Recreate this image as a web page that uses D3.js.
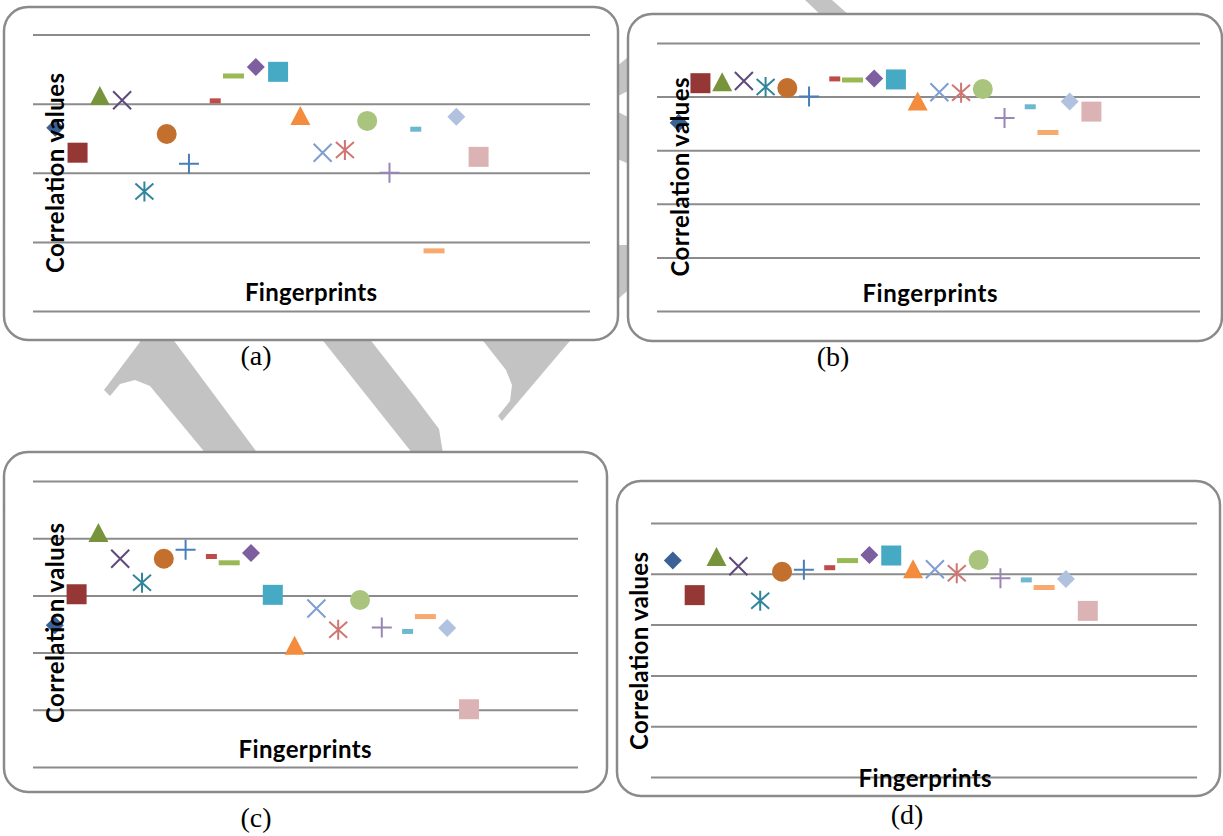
<!DOCTYPE html>
<html>
<head>
<meta charset="utf-8">
<script src="https://cdn.jsdelivr.net/npm/d3@7"></script>
<style>
  body { margin: 0; background: #fff; }
  svg { display: block; }
  .grid line { stroke: #8b8b8b; stroke-width: 2; }
  .grid path { display: none; }
  .title { font-family: Lato, "Open Sans", sans-serif; font-weight: bold; fill: #000; }
  .caption { font-family: "Liberation Serif", "Times New Roman", serif; fill: #000; }
</style>
</head>
<body>
<script>
// fingerprint number (x) of each series, one point per series
var fingerprints = [1, 2, 3, 4, 5, 6, 7, 8, 9, 10, 11, 12, 13, 14, 15, 16, 17, 18, 19, 20];

// correlation values
var valuesA = [0.865, 0.829, 0.911, 0.905, 0.773, 0.856, 0.813, 0.904, 0.940, 0.953,
               0.946, 0.882, 0.829, 0.833, 0.875, 0.800, 0.863, 0.687, 0.881, 0.823];
var valuesB = [0.851, 0.925, 0.927, 0.929, 0.918, 0.916, 0.900, 0.933, 0.931, 0.934,
               0.932, 0.891, 0.908, 0.907, 0.914, 0.860, 0.881, 0.833, 0.891, 0.872];
var valuesC = [0.748, 0.802, 0.909, 0.864, 0.822, 0.864, 0.880, 0.868, 0.857, 0.874,
               0.801, 0.712, 0.777, 0.740, 0.792, 0.744, 0.737, 0.763, 0.743, 0.601];
var valuesD = [0.926, 0.858, 0.933, 0.915, 0.847, 0.904, 0.908, 0.912, 0.926, 0.937,
               0.936, 0.909, 0.909, 0.901, 0.927, 0.891, 0.888, 0.873, 0.890, 0.827];

// gridline values (no tick labels are shown)
var yTicksA = [0.6, 0.7, 0.8, 0.9, 1.0];
var yTicks = [0.5, 0.6, 0.7, 0.8, 0.9, 1.0];
var xMax = 25;

var captions = ["(a)", "(b)", "(c)", "(d)"];

// Excel default marker cycle
var shapes = ["diamond", "square", "triangle", "x", "star", "circle", "plus", "shortbar", "longbar", "diamond",
              "square", "triangle", "x", "star", "circle", "plus", "shortbar", "longbar", "diamond", "square"];
var colors = ["#3b6296", "#943735", "#77933c", "#5f497a", "#31859c", "#c3702f", "#4a7ebb", "#be4b48", "#98b954", "#7d5fa0",
              "#46aac5", "#f38c3c", "#7e9ed2", "#d07672", "#a9c57d", "#9a85b7", "#6eb7d0", "#f8a96f", "#b0c2df", "#dcb3b4"];

var W = 1223, H = 836;

var svg = d3.select("body").append("svg")
    .attr("width", W)
    .attr("height", H);

// watermark behind the panels
var wm = [
  [[132,330],[166,330],[276,478],[226,478],[150,386],[135,380],[120,384],[110,396],[104,390],[140,342]],
  [[318,334],[366,334],[372,342],[415,397],[439,429],[447,478],[432,478],[324,342]],
  [[470,330],[600,245],[634,245],[634,285],[569,342],[502,421],[498,416],[510,401],[512,385],[506,370],[484,342]],
  [[610,72],[634,52],[634,88],[610,100]],
  [[610,108],[634,120],[634,166],[610,156]],
  [[805,0],[832,0],[850,16],[822,16]]
];
svg.selectAll("path.wm")
    .data(wm)
    .enter()
    .append("path")
    .attr("class", "wm")
    .attr("d", function(d){ return d3.line()(d) + "Z"; })
    .attr("fill", "#c3c3c3");

var panels = [
  {frame: [4, 7, 614, 333], plot: [33, 590, 34.5, 311], values: valuesA, ticks: yTicksA,
   ytitle: [55, 173, 200], xtitle: [311, 292, 132], cap: [256, 365]},
  {frame: [628, 14, 594, 327], plot: [657, 1200, 43, 311], values: valuesB, ticks: yTicks,
   ytitle: [680, 177, 199], xtitle: [930, 293, 135], cap: [833, 366]},
  {frame: [4, 452, 603, 340], plot: [33, 578, 481, 767], values: valuesC, ticks: yTicks,
   ytitle: [55, 623, 200], xtitle: [305, 749, 133], cap: [256, 827]},
  {frame: [617, 481, 603, 315], plot: [651, 1197, 523, 777], values: valuesD, ticks: yTicks,
   ytitle: [639, 651, 198], xtitle: [925, 778, 133], cap: [907, 824]}
];

function markerPath(shape){
  switch(shape){
    case "diamond": return "M0,-9L9,0L0,9L-9,0Z";
    case "square": return "M-10,-10H10V10H-10Z";
    case "triangle": return "M0,-10L10,9L-10,9Z";
    case "circle": return "M-10,0A10,10 0 1,0 10,0A10,10 0 1,0 -10,0Z";
    case "x": return "M-9,-9L9,9M-9,9L9,-9";
    case "star": return "M-9,-8L9,8M-9,8L9,-8M0,-10V10";
    case "plus": return "M-10,0H10M0,-10V10";
    case "shortbar": return "M-1.5,-2.5H9.5V2.5H-1.5Z";
    case "longbar": return "M-10.5,-2.5H10.5V2.5H-10.5Z";
  }
}
function isLine(shape){
  return shape == "x" || shape == "star" || shape == "plus";
}

panels.forEach(function(p, k){
  var g = svg.append("g");

  g.append("rect")
    .attr("x", p.frame[0])
    .attr("y", p.frame[1])
    .attr("width", p.frame[2])
    .attr("height", p.frame[3])
    .attr("rx", 24)
    .attr("fill", "#fff")
    .attr("stroke", "#8a8a8a")
    .attr("stroke-width", 2.5);

  var xScale = d3.scaleLinear()
      .domain([0, xMax])
      .range([p.plot[0], p.plot[1]]);

  var yScale = d3.scaleLinear()
      .domain([p.ticks[0], p.ticks[p.ticks.length - 1]])
      .range([p.plot[3], p.plot[2]]);

  var yAxis = d3.axisLeft(yScale)
      .tickValues(p.ticks)
      .tickSize(-(p.plot[1] - p.plot[0]))
      .tickFormat("");

  g.append("g")
    .attr("class", "grid")
    .attr("transform", "translate(" + p.plot[0] + ",0)")
    .call(yAxis);

  g.selectAll("path.mark")
    .data(fingerprints)
    .enter()
    .append("path")
    .attr("class", "mark")
    .attr("transform", function(d, i){
      return "translate(" + xScale(d) + "," + yScale(p.values[i]) + ")";
    })
    .attr("d", function(d, i){ return markerPath(shapes[i]); })
    .attr("fill", function(d, i){ return isLine(shapes[i]) ? "none" : colors[i]; })
    .attr("stroke", function(d, i){ return isLine(shapes[i]) ? colors[i] : "none"; })
    .attr("stroke-width", 2);

  g.append("text")
    .attr("class", "title")
    .attr("transform", "translate(" + p.ytitle[0] + "," + p.ytitle[1] + ") rotate(-90)")
    .attr("text-anchor", "middle")
    .attr("dy", "0.36em")
    .attr("font-size", 24)
    .attr("textLength", p.ytitle[2])
    .text("Correlation values");

  g.append("text")
    .attr("class", "title")
    .attr("x", p.xtitle[0])
    .attr("y", p.xtitle[1])
    .attr("text-anchor", "middle")
    .attr("dy", "0.36em")
    .attr("font-size", 24)
    .attr("textLength", p.xtitle[2])
    .text("Fingerprints");

  svg.append("text")
    .attr("class", "caption")
    .attr("x", p.cap[0])
    .attr("y", p.cap[1])
    .attr("text-anchor", "middle")
    .attr("font-size", 28)
    .text(captions[k]);
});
</script>
</body>
</html>
